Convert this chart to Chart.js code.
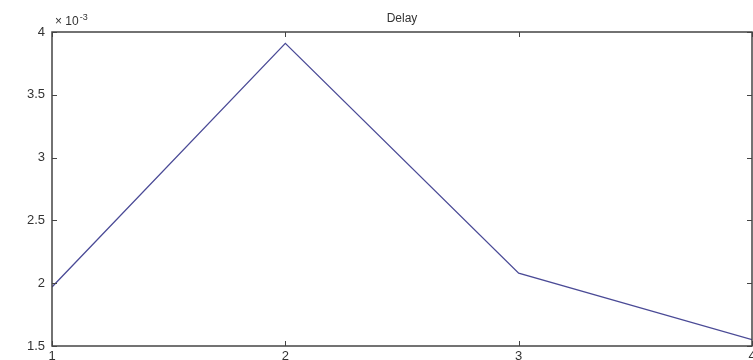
<!DOCTYPE html>
<html>
<head>
<meta charset="utf-8">
<script src="https://cdn.jsdelivr.net/npm/chart.js@4"></script>
<style>
  html, body { margin: 0; padding: 0; background: #fff; }
  #wrap { width: 753px; height: 360px; }
</style>
</head>
<body>
<div id="wrap"><canvas id="delayChart"></canvas></div>
<script>
// Delay per step, in units of 1e-3 (the axis shows "x 10^-3")
const steps = [1, 2, 3, 4];
const delay = [1.97, 3.91, 2.08, 1.55];
const xTicks = [1, 2, 3, 4];
const yTicks = [1.5, 2, 2.5, 3, 3.5, 4];
const chartTitle = 'Delay';

const axisColor = '#444';
const textColor = '#333';
const lineColor = '#4a4a96';
const font = 'Liberation Sans, Arial, sans-serif';

// MATLAB look: box around the axes, ticks pointing inward on all four sides
const matlabAxes = {
    id: 'matlabAxes',
    afterDraw(chart) {
        const { ctx, chartArea: a, scales: { x, y } } = chart;
        ctx.save();
        ctx.strokeStyle = axisColor;
        ctx.lineWidth = 1.5;
        ctx.strokeRect(a.left, a.top, a.right - a.left, a.bottom - a.top);
        ctx.lineWidth = 1;
        const len = 5;
        ctx.beginPath();
        xTicks.forEach(v => {
            const px = Math.round(x.getPixelForValue(v)) + 0.5;
            ctx.moveTo(px, a.bottom); ctx.lineTo(px, a.bottom - len);
            ctx.moveTo(px, a.top); ctx.lineTo(px, a.top + len);
        });
        yTicks.forEach(v => {
            const py = Math.round(y.getPixelForValue(v)) + 0.5;
            ctx.moveTo(a.left, py); ctx.lineTo(a.left + len, py);
            ctx.moveTo(a.right, py); ctx.lineTo(a.right - len, py);
        });
        ctx.stroke();

        // title and exponent note
        ctx.fillStyle = textColor;
        ctx.font = '12px ' + font;
        ctx.textAlign = 'center';
        ctx.textBaseline = 'alphabetic';
        ctx.fillText(chartTitle, (a.left + a.right) / 2, a.top - 10);
        ctx.textAlign = 'left';
        ctx.font = '12px ' + font;
        ctx.fillText('\u00d7 10', a.left + 3, a.top - 7);
        const w = ctx.measureText('\u00d7 10').width;
        ctx.font = '9px ' + font;
        ctx.fillText('-3', a.left + 4 + w, a.top - 12);
        ctx.restore();
    }
};

new Chart(document.getElementById('delayChart'), {
    type: 'line',
    data: {
        datasets: [{
            data: steps.map((s, i) => ({ x: s, y: delay[i] })),
            borderColor: lineColor,
            borderWidth: 1.3,
            pointRadius: 0,
            tension: 0,
            fill: false
        }]
    },
    options: {
        responsive: true,
        maintainAspectRatio: false,
        animation: false,
        layout: { padding: { top: 32, right: 1, left: 0, bottom: 0 } },
        plugins: { legend: { display: false }, tooltip: { enabled: false } },
        scales: {
            x: {
                type: 'linear',
                min: 1, max: 4,
                afterBuildTicks: s => { s.ticks = xTicks.map(v => ({ value: v })); },
                afterFit: s => { s.height = 14; s.paddingLeft = 0; s.paddingRight = 0; },
                grid: { display: false, drawTicks: false },
                border: { display: false },
                ticks: { color: textColor, font: { family: font, size: 13 }, padding: 3, maxRotation: 0, autoSkip: false }
            },
            y: {
                min: 1.5, max: 4,
                afterBuildTicks: s => { s.ticks = yTicks.map(v => ({ value: v })); },
                afterFit: s => { s.width = 52; s.paddingTop = 0; s.paddingBottom = 0; },
                grid: { display: false, drawTicks: false },
                border: { display: false },
                ticks: { color: textColor, font: { family: font, size: 13 }, padding: 7, callback: v => String(v) }
            }
        }
    },
    plugins: [matlabAxes]
});
</script>
</body>
</html>
